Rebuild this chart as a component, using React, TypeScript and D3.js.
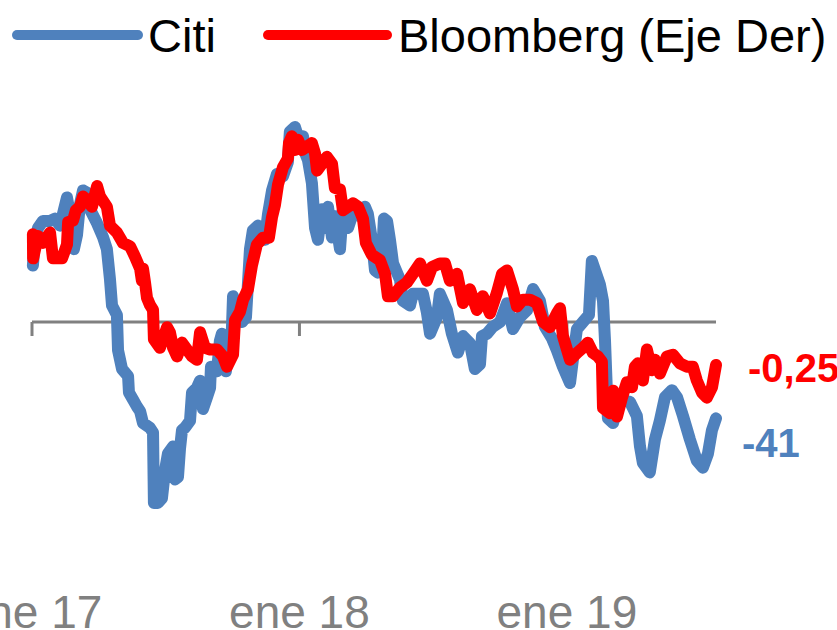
import React from "react";
import * as d3 from "d3";

// x in months since Jan 2017
const tickMonths = [0, 12, 24];
const tickLabels = ["ene 17", "ene 18", "ene 19"];

const citiMonths = [0.04,0.13,0.27,0.49,0.81,1.03,1.26,1.44,1.57,1.70,1.88,2.02,2.15,2.29,2.47,2.60,2.92,3.19,3.36,3.50,3.59,3.81,3.86,4.04,4.31,4.35,4.53,4.71,4.85,4.98,5.29,5.43,5.47,5.65,5.83,5.97,6.10,6.33,6.42,6.55,6.64,6.73,6.86,7.09,7.18,7.40,7.54,7.67,7.85,7.99,8.03,8.30,8.43,8.52,8.70,8.79,8.97,9.02,9.20,9.42,9.60,9.78,9.91,10.14,10.32,10.45,10.59,10.77,10.99,11.26,11.48,11.57,11.80,11.93,12.16,12.25,12.38,12.56,12.70,12.83,13.01,13.14,13.28,13.46,13.59,13.82,13.95,14.18,14.49,14.71,14.94,15.07,15.25,15.39,15.52,15.70,15.79,15.93,16.06,16.20,16.51,16.64,16.96,17.09,17.54,17.72,17.86,18.17,18.30,18.62,18.84,19.11,19.34,19.65,19.87,20.10,20.19,20.41,20.68,21.00,21.31,21.58,21.89,22.21,22.48,22.79,23.01,23.33,23.55,23.82,24.14,24.27,24.45,24.72,24.99,25.12,25.30,25.48,25.62,25.71,25.84,26.07,26.38,26.83,27.14,27.28,27.41,27.72,27.95,28.17,28.40,28.71,28.94,29.21,29.52,29.83,30.10,30.33,30.51,30.69];
const citiValues = [24,35,40,43,43,44,41,48,53,46,31,37,50,56,55,48,42,36,31,18,7,3,-12,-20,-23,-30,-33,-36,-38,-43,-45,-47,-77,-77,-75,-63,-56,-53,-67,-66,-54,-46,-45,-42,-30,-28,-25,-37,-32,-28,-19,-21,-8,-5,-21,-14,-3,11,4,0,2,31,39,41,40,35,46,56,63,62,68,81,83,79,79,72,69,59,40,35,48,40,49,36,45,31,48,40,49,45,49,46,35,22,21,27,44,43,35,25,18,9,7,12,12,4,-5,2,12,5,-5,-13,-6,-9,-20,-18,-6,-5,-2,0,8,-3,2,5,14,9,-2,-7,-12,-19,-26,-16,-3,0,3,26,21,16,9,-8,-41,-43,-33,-34,-40,-53,-60,-64,-50,-42,-32,-29,-32,-40,-50,-59,-62,-56,-46,-41];

const bbgMonths = [0.04,0.05,0.27,0.49,0.81,0.94,1.35,1.57,1.62,1.84,1.97,2.15,2.29,2.47,2.69,2.92,3.05,3.36,3.50,3.81,4.08,4.40,4.62,4.85,4.93,4.98,5.07,5.16,5.29,5.43,5.47,5.74,6.06,6.19,6.33,6.51,6.73,6.95,7.18,7.40,7.54,7.76,7.99,8.30,8.57,8.75,9.02,9.11,9.33,9.47,9.69,9.87,10.09,10.36,10.63,10.77,10.90,11.04,11.26,11.48,11.53,11.66,11.80,11.93,12.11,12.34,12.56,12.70,12.79,13.01,13.23,13.46,13.59,13.82,13.95,14.18,14.40,14.63,14.85,14.98,15.25,15.61,15.84,15.97,16.20,16.51,16.82,17.09,17.41,17.72,17.95,18.30,18.53,18.75,19.07,19.34,19.65,19.96,20.23,20.55,20.86,21.09,21.31,21.58,21.76,22.03,22.34,22.66,22.93,23.24,23.55,23.69,23.82,24.14,24.45,24.72,24.94,25.17,25.39,25.57,25.62,25.93,26.07,26.25,26.47,26.69,26.92,27.05,27.19,27.41,27.59,27.81,27.95,28.17,28.49,28.76,29.07,29.38,29.65,29.83,30.06,30.28,30.51,30.69];
const bbgValues = [0.51,0.37,0.50,0.46,0.52,0.37,0.37,0.45,0.58,0.59,0.65,0.67,0.73,0.71,0.67,0.79,0.73,0.67,0.56,0.52,0.46,0.44,0.38,0.31,0.24,0.31,0.23,0.14,0.10,0.07,-0.10,-0.15,-0.03,-0.06,-0.15,-0.20,-0.12,-0.16,-0.20,-0.22,-0.06,-0.15,-0.16,-0.16,-0.20,-0.26,-0.19,0.01,0.06,0.13,0.19,0.33,0.45,0.49,0.49,0.61,0.68,0.80,0.90,0.95,1.04,1.08,1.00,1.06,1.00,1.02,1.04,0.98,0.88,0.92,0.96,0.92,0.78,0.77,0.65,0.67,0.69,0.67,0.60,0.46,0.39,0.36,0.28,0.15,0.15,0.20,0.23,0.28,0.34,0.24,0.32,0.34,0.34,0.24,0.28,0.11,0.19,0.07,0.15,0.05,0.17,0.28,0.30,0.19,0.09,0.13,0.13,0.11,0.00,-0.03,0.05,0.08,-0.08,-0.22,-0.18,-0.15,-0.12,-0.18,-0.20,-0.23,-0.50,-0.53,-0.40,-0.55,-0.44,-0.35,-0.38,-0.26,-0.24,-0.34,-0.16,-0.28,-0.22,-0.30,-0.20,-0.19,-0.24,-0.26,-0.26,-0.34,-0.41,-0.44,-0.38,-0.25];

const legendNames = ["Citi", "Bloomberg (Eje Der)"];
const lastCitiLabel = "-41";
const lastBbgLabel = "-0,25";

const BLUE = "#4f81bd";
const RED = "#ff0000";
const GRAY = "#808080";
const FONT = "'Liberation Sans', Arial, sans-serif";

export default function App() {
  const W = 837, H = 630;
  const x = d3.scaleLinear().domain([0, 30.69]).range([32, 716]);
  const yL = d3.scaleLinear().domain([-100, 100]).range([557, 87]);
  const yR = d3.scaleLinear().domain([-1, 1]).range([494, 150]);

  const citi = citiMonths.map((m, i) => [m, citiValues[i]] as [number, number]);
  const bbg = bbgMonths.map((m, i) => [m, bbgValues[i]] as [number, number]);

  const lineL = d3.line<[number, number]>().x(d => x(d[0])).y(d => yL(d[1]));
  const lineR = d3.line<[number, number]>().x(d => x(d[0])).y(d => yR(d[1]));

  const y0 = yL(0);
  const lastC = citi[citi.length - 1];
  const lastB = bbg[bbg.length - 1];

  return (
    <svg width={W} height={H} style={{ position: "absolute", left: 0, top: 0, background: "#fff" }}>
      {/* axis */}
      <line x1={x(0)} x2={x(30.69)} y1={y0} y2={y0} stroke={GRAY} strokeWidth={3} />
      {tickMonths.map((m, i) => (
        <g key={i}>
          <line x1={x(m)} x2={x(m)} y1={y0} y2={y0 + 14} stroke={GRAY} strokeWidth={3} />
          <text x={x(m)} y={628} textAnchor="middle" fontFamily={FONT} fontSize={46} fill={GRAY}>
            {tickLabels[i]}
          </text>
        </g>
      ))}

      <path d={lineL(citi) || ""} fill="none" stroke={BLUE} strokeWidth={12} strokeLinejoin="round" strokeLinecap="round" />
      <path d={lineR(bbg) || ""} fill="none" stroke={RED} strokeWidth={12} strokeLinejoin="round" strokeLinecap="round" />

      <text x={742} y={yL(lastC[1]) + 39} fontFamily={FONT} fontSize={40} fontWeight="bold" fill={BLUE}>
        {lastCitiLabel}
      </text>
      <text x={748} y={yR(lastB[1]) + 17} fontFamily={FONT} fontSize={40} fontWeight="bold" fill={RED}>
        {lastBbgLabel}
      </text>

      {/* legend */}
      <line x1={17} x2={138} y1={35} y2={35} stroke={BLUE} strokeWidth={10} strokeLinecap="round" />
      <text x={148} y={52} fontFamily={FONT} fontSize={47} fill="#000">{legendNames[0]}</text>
      <line x1={268} x2={387} y1={35} y2={35} stroke={RED} strokeWidth={10} strokeLinecap="round" />
      <text x={398} y={52} fontFamily={FONT} fontSize={47} fill="#000">{legendNames[1]}</text>
    </svg>
  );
}
